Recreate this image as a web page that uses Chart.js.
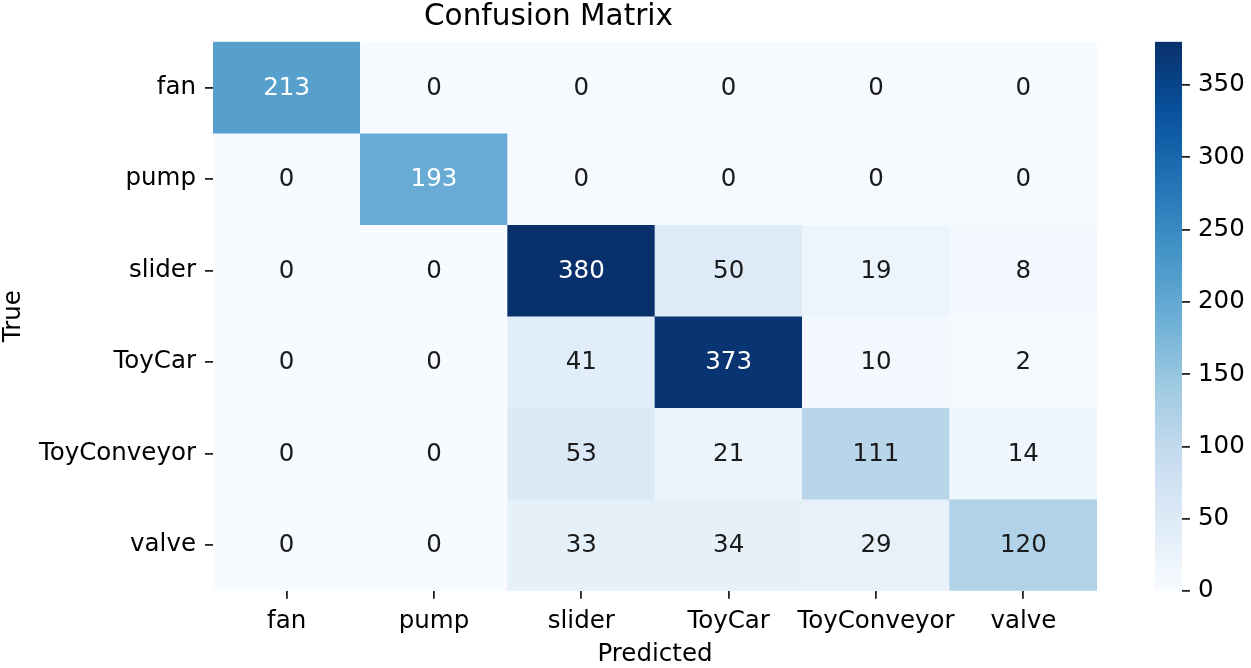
<!DOCTYPE html>
<html>
<head>
<meta charset="utf-8">
<script src="https://cdn.jsdelivr.net/npm/chart.js@4.4.1/dist/chart.umd.min.js"></script>
<style>
  html, body { margin: 0; padding: 0; background: #fff; }
  #wrap { position: relative; width: 1251px; height: 668px; overflow: hidden; }
  #main { position: absolute; left: 0; top: 0; }
  #cbar { position: absolute; left: 1140px; top: 0; }
</style>
</head>
<body>
<div id="wrap">
  <canvas id="main" width="1140" height="668"></canvas>
  <canvas id="cbar" width="111" height="668"></canvas>
</div>
<script>
// ---- data ----
const predictedLabels = ['fan', 'pump', 'slider', 'ToyCar', 'ToyConveyor', 'valve'];
const trueLabels = ['fan', 'pump', 'slider', 'ToyCar', 'ToyConveyor', 'valve'];
const rowFan = [213, 0, 0, 0, 0, 0];
const rowPump = [0, 193, 0, 0, 0, 0];
const rowSlider = [0, 0, 380, 50, 19, 8];
const rowToyCar = [0, 0, 41, 373, 10, 2];
const rowToyConveyor = [0, 0, 53, 21, 111, 14];
const rowValve = [0, 0, 33, 34, 29, 120];
const colorbarTicks = [0, 50, 100, 150, 200, 250, 300, 350];
const vmin = 0;
const vmax = 380;

const matrix = [rowFan, rowPump, rowSlider, rowToyCar, rowToyConveyor, rowValve];

// ---- Blues colormap ----
const bluesStops = ['#f7fbff', '#deebf7', '#c6dbef', '#9ecae1', '#6baed6', '#4292c6', '#2171b5', '#08519c', '#08306b'];
function hexToRgb(h) {
  return [parseInt(h.slice(1, 3), 16), parseInt(h.slice(3, 5), 16), parseInt(h.slice(5, 7), 16)];
}
const bluesRgb = bluesStops.map(hexToRgb);
function bluesAt(t) {
  t = Math.max(0, Math.min(1, t));
  const p = t * (bluesRgb.length - 1);
  const i = Math.min(Math.floor(p), bluesRgb.length - 2);
  const f = p - i;
  const a = bluesRgb[i], b = bluesRgb[i + 1];
  return [0, 1, 2].map(k => a[k] + (b[k] - a[k]) * f);
}
function colorFor(v) {
  const c = bluesAt((v - vmin) / (vmax - vmin));
  return `rgb(${Math.round(c[0])},${Math.round(c[1])},${Math.round(c[2])})`;
}
function textColorFor(v) {
  const c = bluesAt((v - vmin) / (vmax - vmin)).map(x => {
    x = x / 255;
    return x <= 0.03928 ? x / 12.92 : Math.pow((x + 0.055) / 1.055, 2.4);
  });
  const lum = 0.2126 * c[0] + 0.7152 * c[1] + 0.0722 * c[2];
  return lum > 0.408 ? '#1a1a1a' : '#ffffff';
}

const FONT = 'DejaVu Sans';
const LABEL_SIZE = 24.5;
Chart.defaults.font.family = FONT;
Chart.defaults.color = '#000';

// ---- annotation plugin ----
const annotate = {
  id: 'annotate',
  afterDatasetsDraw(chart) {
    const ctx = chart.ctx;
    ctx.save();
    ctx.font = `${LABEL_SIZE}px "${FONT}"`;
    ctx.textAlign = 'center';
    ctx.textBaseline = 'middle';
    chart.data.datasets.forEach((ds, i) => {
      const meta = chart.getDatasetMeta(i);
      meta.data.forEach((el, j) => {
        const v = matrix[i][j];
        const p = el.getCenterPoint();
        ctx.fillStyle = textColorFor(v);
        ctx.fillText(String(v), p.x, p.y + 1);
      });
    });
    ctx.restore();
  }
};

const datasets = trueLabels.map((name, i) => ({
  label: name,
  data: predictedLabels.map(() => 1),
  backgroundColor: matrix[i].map(colorFor),
  borderWidth: 0,
  barPercentage: 1,
  categoryPercentage: 1,
  stack: 'm'
}));

new Chart(document.getElementById('main'), {
  type: 'bar',
  data: { labels: predictedLabels, datasets },
  options: {
    responsive: false,
    animation: false,
    devicePixelRatio: 1,
    layout: { padding: { left: 0, right: 43, top: 0, bottom: 0 } },
    plugins: {
      legend: { display: false },
      tooltip: { enabled: false },
      title: {
        display: true,
        text: 'Confusion Matrix',
        color: '#000',
        font: { size: 29.5, weight: 'normal', family: FONT, lineHeight: 1.1 },
        padding: { top: 1.5, bottom: 7.7 }
      }
    },
    scales: {
      x: {
        stacked: true,
        grid: { display: true, drawOnChartArea: false, drawTicks: true, tickLength: 8, offset: false, color: '#222', lineWidth: 1.8 },
        border: { display: false },
        ticks: { font: { size: LABEL_SIZE }, color: '#000', padding: 8, maxRotation: 0, autoSkip: false },
        title: { display: true, text: 'Predicted', color: '#000', font: { size: LABEL_SIZE, lineHeight: 1.1 }, padding: { top: 0, bottom: 0 } },
        afterFit(scale) { scale.height = 668 - 590.7; }
      },
      y: {
        type: 'linear',
        stacked: true,
        min: 0,
        max: 6,
        reverse: true,
        afterBuildTicks(scale) {
          scale.ticks = trueLabels.map((_, i) => ({ value: i + 0.5 }));
        },
        grid: { display: true, drawOnChartArea: false, drawTicks: true, tickLength: 8, color: '#222', lineWidth: 1.8 },
        border: { display: false },
        ticks: {
          font: { size: LABEL_SIZE },
          color: '#000',
          padding: 9,
          autoSkip: false,
          callback: (v, idx) => trueLabels[idx]
        },
        title: { display: true, text: 'True', color: '#000', font: { size: LABEL_SIZE, lineHeight: 1 }, padding: { top: 1, bottom: 0 } },
        afterFit(scale) { scale.width = 213; }
      }
    }
  },
  plugins: [annotate]
});

// ---- colorbar ----
new Chart(document.getElementById('cbar'), {
  type: 'bar',
  data: {
    labels: [''],
    datasets: [{
      data: [vmax],
      borderWidth: 0,
      barPercentage: 1,
      categoryPercentage: 1,
      backgroundColor(ctx) {
        const chart = ctx.chart;
        const ys = chart.scales.y;
        if (!ys) return bluesStops[0];
        const y0 = ys.getPixelForValue(vmin);
        const y1 = ys.getPixelForValue(vmax);
        if (!isFinite(y0) || !isFinite(y1) || y0 === y1) return bluesStops[4];
        const g = chart.ctx.createLinearGradient(0, y0, 0, y1);
        bluesStops.forEach((c, i) => g.addColorStop(i / (bluesStops.length - 1), c));
        return g;
      }
    }]
  },
  options: {
    responsive: false,
    animation: false,
    devicePixelRatio: 1,
    layout: { padding: { left: 15, right: 0, top: 41.7, bottom: 77 } },
    plugins: { legend: { display: false }, tooltip: { enabled: false }, title: { display: false } },
    scales: {
      x: { display: false },
      y: {
        position: 'right',
        min: vmin,
        max: vmax,
        afterBuildTicks(scale) {
          scale.ticks = colorbarTicks.map(v => ({ value: v }));
        },
        grid: { display: true, drawOnChartArea: false, drawTicks: true, tickLength: 8, color: '#222', lineWidth: 1.8 },
        border: { display: false },
        ticks: { font: { size: LABEL_SIZE }, color: '#000', padding: 8 },
        afterFit(scale) { scale.width = 111 - 15 - 27; }
      }
    }
  }
});
</script>
</body>
</html>
